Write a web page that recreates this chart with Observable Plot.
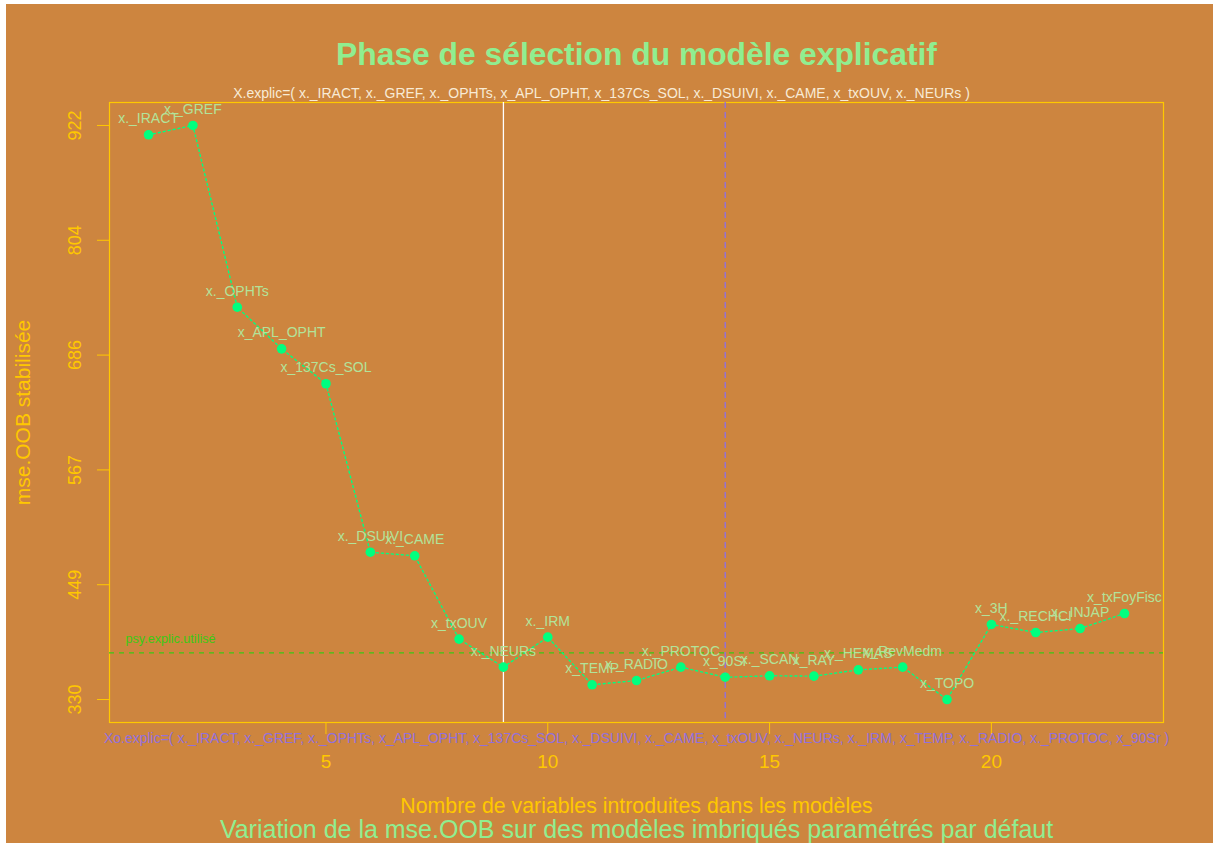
<!DOCTYPE html>
<html>
<head>
<meta charset="utf-8">
<script src="https://cdn.jsdelivr.net/npm/d3@7"></script>
<script src="https://cdn.jsdelivr.net/npm/@observablehq/plot@0.6"></script>
<style>
  html, body { margin: 0; padding: 0; background: #ffffff; }
  #chart { position: absolute; left: 6px; top: 4px; width: 1207px; height: 839px; background: #CD853F; }
  svg text { font-family: "Liberation Sans", Arial, sans-serif; }
</style>
</head>
<body>
<div id="chart"></div>
<script>
// ---- data ----
const variables = ["x._IRACT","x._GREF","x._OPHTs","x_APL_OPHT","x_137Cs_SOL","x._DSUIVI","x._CAME","x_txOUV","x._NEURs","x._IRM","x_TEMP","x._RADIO","x._PROTOC","x_90Sr","x._SCAN","x_RAY","x._HEMAS","x_RevMedm","x_TOPO","x_3H","x._RECHCI","x._INJAP","x_txFoyFisc"];
const nbVariables = [1,2,3,4,5,6,7,8,9,10,11,12,13,14,15,16,17,18,19,20,21,22,23];
const mseOOB = [912.7,922.3,734.9,692.0,656.0,482.3,478.6,392.7,363.8,394.7,345.6,350.0,363.8,353.4,354.9,354.5,361.0,363.8,330.4,407.8,399.5,403.6,419.1];
const yTickValues = [330.4,448.78,567.16,685.54,803.92,922.3];
const yTickLabels = ["330","449","567","686","804","922"];
const xTickValues = [5,10,15,20];
const psyExplicUtilise = 378.5;
const nbExplicRetenu = 9;
const nbExplicOpt = 14;

const titleText = "Phase de sélection du modèle explicatif";
const subtitleText = "X.explic=( x._IRACT, x._GREF, x._OPHTs, x_APL_OPHT, x_137Cs_SOL, x._DSUIVI, x._CAME, x_txOUV, x._NEURs )";
const xoText = "Xo.explic=( x._IRACT, x._GREF, x._OPHTs, x_APL_OPHT, x_137Cs_SOL, x._DSUIVI, x._CAME, x_txOUV, x._NEURs, x._IRM, x_TEMP, x._RADIO, x._PROTOC, x_90Sr )";
const xLabel = "Nombre de variables introduites dans les modèles";
const yLabel = "mse.OOB stabilisée";
const footerText = "Variation de la mse.OOB sur des modèles imbriqués paramétrés par défaut";
const psyLabel = "psy.explic.utilisé";

const data = variables.map((v, i) => ({name: v, n: nbVariables[i], mse: mseOOB[i]}));

const AXIS = "#FFC800";
const LIGHTGREEN = "#90EE90";
const LBL = "#B2E39A";
const PT = "#00FF7F";
const PSY = "#3CC814";
const PURPLE = "#9370DB";

const span = yTickValues[5] - yTickValues[0];
const yDomain = [yTickValues[0] - 0.04 * span, yTickValues[5] + 0.04 * span];
const xDomain = [1 - 0.04 * 22, 23 + 0.04 * 22];

const chart = Plot.plot({
  width: 1207,
  height: 839,
  marginLeft: 103,
  marginTop: 98,
  marginRight: 50,
  marginBottom: 121,
  x: {domain: xDomain},
  y: {domain: yDomain},
  style: {background: "transparent", fontFamily: "Liberation Sans, Arial, sans-serif", overflow: "visible"},
  marks: [
    Plot.frame({stroke: AXIS, strokeWidth: 1.2}),
    Plot.axisX({ticks: xTickValues, tickSize: 12, tickPadding: 20, fontSize: 19, stroke: AXIS, fill: AXIS, label: null}),
    Plot.axisY({ticks: yTickValues, tickSize: 12, tickFormat: () => "", stroke: AXIS, label: null}),
    Plot.text(yTickValues, {y: d => d, text: (d, i) => yTickLabels[i], frameAnchor: "left", dx: -34, rotate: -90, fontSize: 18, fill: AXIS, textAnchor: "middle", lineAnchor: "middle"}),
    Plot.ruleY([psyExplicUtilise], {stroke: PSY, strokeDasharray: "5,5", strokeWidth: 1.3}),
    Plot.ruleX([nbExplicRetenu], {stroke: "white", strokeWidth: 1.3}),
    Plot.ruleX([nbExplicOpt], {stroke: PURPLE, strokeDasharray: "6,4", strokeWidth: 1.4}),
    Plot.line(data, {x: "n", y: "mse", stroke: PT, strokeDasharray: "2,3", strokeWidth: 1.4}),
    Plot.dot(data, {x: "n", y: "mse", r: 4.8, fill: PT, stroke: "none"}),
    Plot.text(data, {x: "n", y: "mse", text: "name", dy: -16, fill: LBL, fontSize: 14}),
    Plot.text([psyExplicUtilise], {y: d => d, text: () => psyLabel, frameAnchor: "left", dx: 16, dy: -13.5, textAnchor: "start", fill: PSY, fontSize: 12.6}),
    Plot.text([titleText], {frameAnchor: "top", dy: -48, fontSize: 31.8, fontWeight: "bold", fill: LIGHTGREEN, textAnchor: "middle", lineAnchor: "middle"}),
    Plot.text([subtitleText], {frameAnchor: "top", dx: -35, dy: -9, fontSize: 14, fill: "#F8EBD6", textAnchor: "middle", lineAnchor: "middle"}),
    Plot.text([xoText], {frameAnchor: "bottom", dx: 0, dy: 16, fontSize: 14, fill: PURPLE, textAnchor: "middle", lineAnchor: "middle"}),
    Plot.text([xLabel], {frameAnchor: "bottom", dy: 84, fontSize: 21.3, fill: AXIS, textAnchor: "middle", lineAnchor: "middle"}),
    Plot.text([footerText], {frameAnchor: "bottom", dy: 107, fontSize: 25, fill: LIGHTGREEN, textAnchor: "middle", lineAnchor: "middle"}),
    Plot.text([yLabel], {frameAnchor: "left", dx: -86, rotate: -90, fontSize: 21, fill: AXIS, textAnchor: "middle", lineAnchor: "middle"})
  ]
});
document.getElementById("chart").appendChild(chart);
</script>
</body>
</html>
